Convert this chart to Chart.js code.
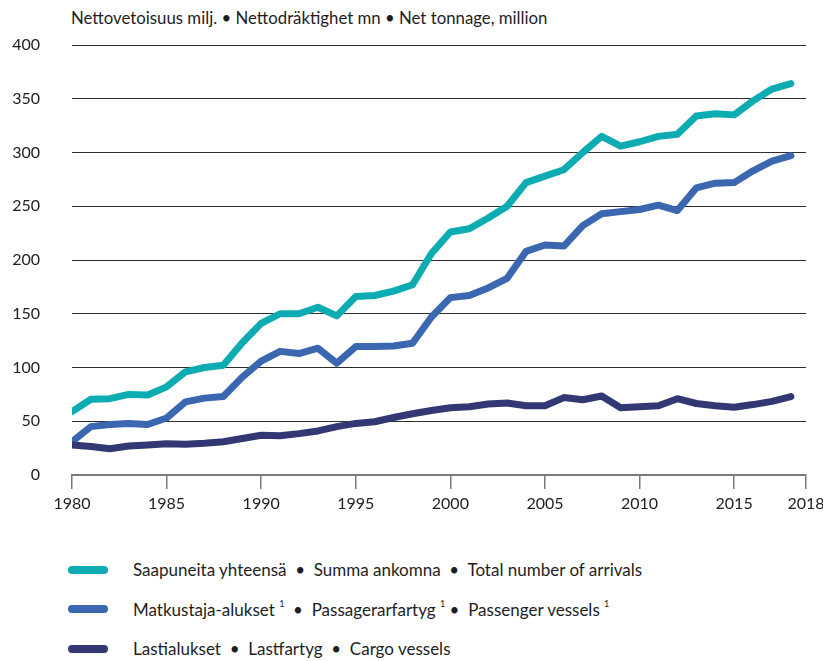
<!DOCTYPE html>
<html>
<head>
<meta charset="utf-8">
<script src="https://cdn.jsdelivr.net/npm/chart.js@4.4.1/dist/chart.umd.min.js"></script>
<style>
  body { margin: 0; background: #fff; font-family: Lato, "Open Sans", sans-serif; color: #1e1e1e; overflow: hidden; }
  #wrap { position: relative; width: 823px; height: 661px; overflow: hidden; }
  #title { position: absolute; left: 71px; top: 7px; font-size: 16.8px; white-space: nowrap; }
  #box { position: absolute; left: 0; top: 0; width: 840px; height: 530px; }
  #legend { position: absolute; left: 68px; top: 550px; }
  .row { display: flex; align-items: center; height: 39.5px; font-size: 17px; white-space: pre; }
  .row sup { font-size: 9px; position: relative; top: -2px; }
  .sw { width: 40px; height: 8px; border-radius: 4px; margin-right: 25px; }
</style>
</head>
<body>
<div id="wrap">
  <div id="title">Nettovetoisuus milj. • Nettodräktighet mn • Net tonnage, million</div>
  <div id="box"><canvas id="chart" width="840" height="530"></canvas></div>
  <div id="legend"></div>
</div>
<script>
// years 1980 - 2018
const years = [1980,1981,1982,1983,1984,1985,1986,1987,1988,1989,1990,1991,1992,1993,1994,1995,1996,1997,1998,1999,
               2000,2001,2002,2003,2004,2005,2006,2007,2008,2009,2010,2011,2012,2013,2014,2015,2016,2017,2018];

const totalArrivals = [59, 70.5, 71, 75, 74.5, 82, 96, 100, 102, 123, 141, 150, 150, 156, 148, 166, 167, 171, 177, 206,
                       226, 229, 239, 250, 272, 278, 284, 300, 315, 306, 310, 315, 317, 334, 336, 335, 348, 359, 364];
const passengerVessels = [31, 45, 47, 48, 47, 53, 68, 71.5, 73, 91, 106, 115, 113, 118, 104, 119.5, 119.5, 120, 122.5, 147,
                          165, 167, 174, 183, 208, 214, 213, 232, 243, 245, 247, 251, 246, 267, 271.5, 272, 283, 292, 297];
const cargoVessels = [28, 26.5, 24.5, 27, 28, 29, 28.5, 29.5, 31, 34, 37, 36.5, 38.5, 41, 45, 48, 49.5, 53.5, 57, 60,
                      62.5, 63.5, 66, 67, 64.5, 64.5, 72, 70, 73.5, 62.5, 63.5, 64.5, 71, 66.5, 64.5, 63, 65.5, 68.5, 73];

const seriesNames = [
  "Saapuneita yhteensä  •  Summa ankomna  •  Total number of arrivals",
  "Matkustaja-alukset ¹  •  Passagerarfartyg ¹ •  Passenger vessels ¹",
  "Lastialukset  •  Lastfartyg  •  Cargo vessels"
];
const seriesColors = ["#0dacb2", "#3a67b0", "#323873"];

const xTicks = [1980, 1985, 1990, 1995, 2000, 2005, 2010, 2015, 2018];
const yTicks = [0, 50, 100, 150, 200, 250, 300, 350, 400];

// the last axis tick sits at the right edge, a bit past the 2018 data point
const xEnd = 2018.8;

const seriesData = [totalArrivals, passengerVessels, cargoVessels];

const datasets = seriesData.map((vals, i) => ({
  label: seriesNames[i],
  data: vals.map((v, j) => ({ x: years[j], y: v })),
  borderColor: seriesColors[i],
  backgroundColor: seriesColors[i],
  borderWidth: 7,
  borderCapStyle: 'round',
  borderJoinStyle: 'round',
  pointRadius: 0,
  tension: 0,
  fill: false,
  order: 3 - i
}));

const tickFont = { family: "Lato, 'Open Sans', sans-serif", size: 16 };

new Chart(document.getElementById('chart'), {
  type: 'line',
  data: { datasets },
  options: {
    responsive: false,
    animation: false,
    layout: { padding: { top: 45, right: 34, bottom: 10, left: 0 } },
    plugins: {
      legend: { display: false },
      tooltip: { enabled: false }
    },
    scales: {
      x: {
        type: 'linear',
        min: 1980,
        max: xEnd,
        afterBuildTicks: (scale) => {
          scale.ticks = xTicks.map(v => ({ value: v === 2018 ? xEnd : v }));
        },
        afterFit: (scale) => { scale.height = 45; },
        ticks: {
          font: tickFont,
          color: '#1e1e1e',
          padding: 5,
          maxRotation: 0,
          autoSkip: false,
          callback: (v) => (v > 2018 ? '2018' : String(v))
        },
        grid: {
          drawOnChartArea: false,
          drawTicks: true,
          tickLength: 14,
          color: '#7a7a7a',
          lineWidth: 1.5
        },
        border: { display: true, color: '#7a7a7a', width: 2 }
      },
      y: {
        min: 0,
        max: 400,
        afterBuildTicks: (scale) => {
          scale.ticks = yTicks.map(v => ({ value: v }));
        },
        afterFit: (scale) => { scale.width = 72; },
        ticks: {
          font: tickFont,
          color: '#1e1e1e',
          padding: 32
        },
        grid: {
          drawTicks: false,
          color: (ctx) => (ctx.tick && ctx.tick.value === 0 ? 'rgba(0,0,0,0)' : '#2e2e2e'),
          lineWidth: 1
        },
        border: { display: false }
      }
    }
  }
});

// legend below the chart
const legend = document.getElementById('legend');
seriesNames.forEach((name, i) => {
  const row = document.createElement('div');
  row.className = 'row';
  const sw = document.createElement('span');
  sw.className = 'sw';
  sw.style.background = seriesColors[i];
  const txt = document.createElement('span');
  name.split('¹').forEach((part, k, arr) => {
    txt.appendChild(document.createTextNode(part));
    if (k < arr.length - 1) {
      const s = document.createElement('sup');
      s.textContent = '1';
      txt.appendChild(s);
    }
  });
  row.appendChild(sw);
  row.appendChild(txt);
  legend.appendChild(row);
});
</script>
</body>
</html>
